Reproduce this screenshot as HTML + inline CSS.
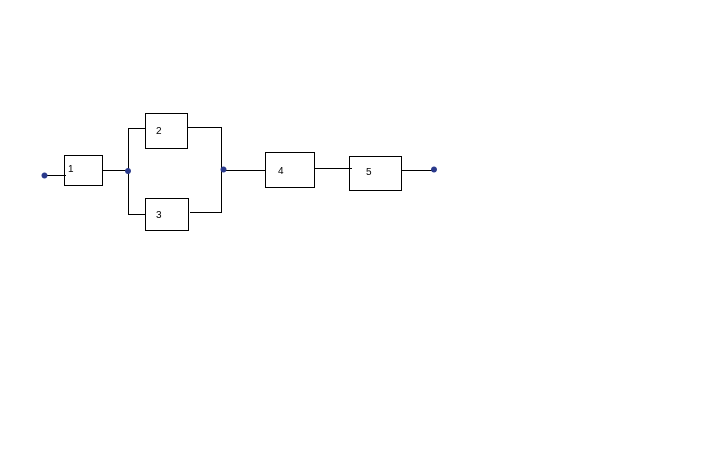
<!DOCTYPE html>
<html><head><style>html,body{margin:0;padding:0;background:#fff;width:720px;height:450px;overflow:hidden}</style></head>
<body>
<svg width="720" height="450" xmlns="http://www.w3.org/2000/svg" style="display:block">
<g stroke="#000" stroke-width="1" fill="none" shape-rendering="crispEdges">
<rect x="64.5" y="155.5" width="38" height="30" fill="#fff"/>
<rect x="145.5" y="113.5" width="42" height="35" fill="#fff"/>
<rect x="145.5" y="198.5" width="43" height="32" fill="#fff"/>
<rect x="265.5" y="152.5" width="49" height="35" fill="#fff"/>
<rect x="349.5" y="156.5" width="52" height="34" fill="#fff"/>
<line x1="44" y1="175.5" x2="66" y2="175.5"/>
<line x1="102" y1="170.5" x2="128" y2="170.5"/>
<line x1="128.5" y1="128" x2="128.5" y2="215"/>
<line x1="128" y1="128.5" x2="146" y2="128.5"/>
<line x1="128" y1="214.5" x2="146" y2="214.5"/>
<line x1="187" y1="127.5" x2="221" y2="127.5"/>
<line x1="221.5" y1="127" x2="221.5" y2="213"/>
<line x1="190" y1="212.5" x2="222" y2="212.5"/>
<line x1="222" y1="170.5" x2="265" y2="170.5"/>
<line x1="314" y1="168.5" x2="352" y2="168.5"/>
<line x1="401" y1="170.5" x2="434" y2="170.5"/>
</g>
<g fill="#2a3a8c">
<circle cx="44.5" cy="175.5" r="3"/>
<circle cx="128" cy="171" r="3"/>
<circle cx="223.5" cy="169.5" r="3"/>
<circle cx="434" cy="169.5" r="3"/>
</g>
<g font-family="Liberation Sans, sans-serif" font-size="10" fill="#000">
<text x="68" y="172">1</text>
<text x="156" y="134">2</text>
<text x="156" y="218">3</text>
<text x="278" y="174">4</text>
<text x="366" y="175">5</text>
</g>
</svg>
</body></html>
